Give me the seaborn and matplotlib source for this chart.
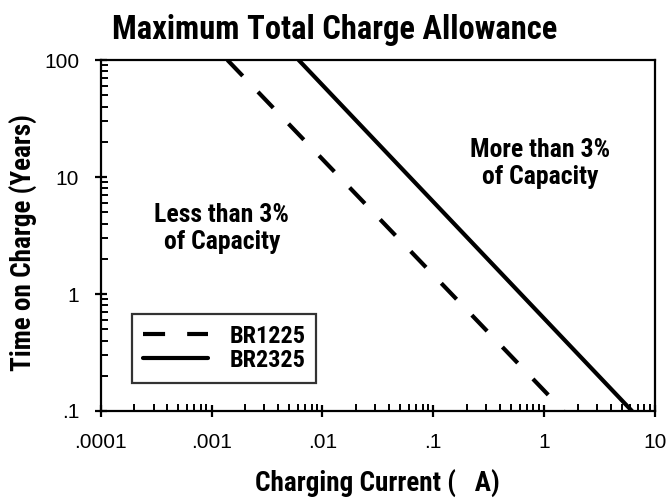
import numpy as np
import pandas as pd
import matplotlib
matplotlib.use("Agg")
import matplotlib.pyplot as plt
import seaborn as sns

# lines (current in uA, time in years)
br1225_current = [0.00139, 1.5]
br1225_years = [100, 0.1]
br2325_current = [0.0061, 6.2]
br2325_years = [100, 0.1]

x_ticks = [0.0001, 0.001, 0.01, 0.1, 1, 10]
x_tick_labels = ['.0001', '.001', '.01', '.1', '1', '10']
y_ticks = [0.1, 1, 10, 100]
y_tick_labels = ['.1', '1', '10', '100']

df = pd.DataFrame({
    'current': br1225_current + br2325_current,
    'years': br1225_years + br2325_years,
    'cell': ['BR1225'] * 2 + ['BR2325'] * 2,
})

sns.set_style("ticks")
cond = ['Roboto Condensed', 'DejaVu Sans']
plt.rcParams['font.family'] = cond
plt.rcParams['text.color'] = 'black'
plt.rcParams['axes.labelcolor'] = 'black'
plt.rcParams['xtick.color'] = 'black'
plt.rcParams['ytick.color'] = 'black'

fig = plt.figure(figsize=(6.67, 5.0), dpi=100)
ax = fig.add_axes([0.151, 0.178, 0.831, 0.702])

sns.lineplot(data=df, x='current', y='years', hue='cell', style='cell',
             palette=['black', 'black'], dashes={'BR1225': (5.3, 5.3), 'BR2325': ''},
             linewidth=3.0, ax=ax)

ax.set_xscale('log')
ax.set_yscale('log')
ax.set_xlim(0.0001, 10)
ax.set_ylim(0.1, 100)
ax.set_xticks(x_ticks)
ax.set_xticklabels(x_tick_labels)
ax.set_yticks(y_ticks)
ax.set_yticklabels(y_tick_labels)
ax.tick_params(which='major', direction='inout', length=9, width=1.6,
               labelsize=15, pad=11)
ax.tick_params(which='minor', direction='in', length=5, width=1.4)
ax.tick_params(top=False, right=False, which='both')
for lbl in ax.get_xticklabels() + ax.get_yticklabels():
    lbl.set_family(['Liberation Sans', 'DejaVu Sans'])
for s in ax.spines.values():
    s.set_linewidth(1.6)
    s.set_color('black')

ax.set_xlabel('Charging Current (   A)', fontsize=19.5, fontweight='bold')
ax.set_ylabel('Time on Charge (Years)', fontsize=19.5, fontweight='bold')
ax.xaxis.set_label_coords(0.5, -0.168)
ax.yaxis.set_label_coords(-0.114, 0.48)
fig.suptitle('Maximum Total Charge Allowance', x=0.502, y=0.922, va='baseline',
             fontsize=23.5, fontweight='bold')

ax.text(0.00124, 3.6, 'Less than 3%\nof Capacity', ha='center', va='center',
        fontsize=18.5, fontweight='bold', linespacing=1.15)
ax.text(0.92, 13, 'More than 3%\nof Capacity', ha='center', va='center',
        fontsize=18.5, fontweight='bold', linespacing=1.15)

leg = ax.legend(loc='lower left', bbox_to_anchor=(0.056, 0.08), fontsize=17.5,
                frameon=True, fancybox=False, handlelength=2.7,
                borderpad=0.45, labelspacing=0.05, handletextpad=0.86,
                borderaxespad=0)
leg.get_frame().set_edgecolor('black')
leg.get_frame().set_linewidth(1.6)
for t in leg.get_texts():
    t.set_fontweight('bold')

fig.savefig('out.png', dpi=100)
